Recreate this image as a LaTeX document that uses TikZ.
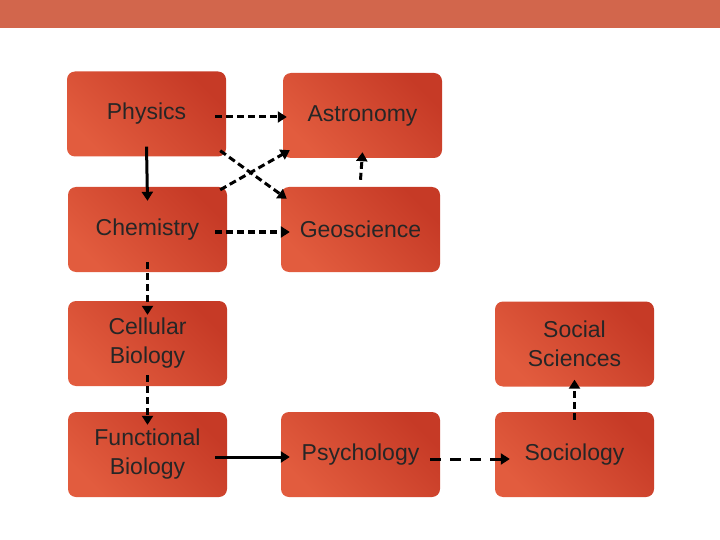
\documentclass[tikz,border=0pt]{standalone}
\usepackage{fontspec}
\setmainfont{Liberation Sans}
\usetikzlibrary{arrows.meta}
\definecolor{bar}{RGB}{210,102,76}
\definecolor{boxA}{RGB}{226,92,62}
\definecolor{boxB}{RGB}{198,58,38}
\tikzset{
  box/.style={rounded corners=8pt, minimum width=159pt, minimum height=85pt, inner sep=2pt,
    left color=boxA, right color=boxB, shading angle=135, align=center,
    font=\fontsize{23}{29}\selectfont, text=black!85},
  con/.style={line width=3pt, -{Triangle[length=9pt,width=11pt]}},
  dsh/.style={con, dash pattern=on 7pt off 4pt},
  ldsh/.style={con, dash pattern=on 11pt off 9pt}
}
\begin{document}
\begin{tikzpicture}[x=1pt,y=-1pt]
\useasboundingbox (0,0) rectangle (720,540);
\fill[bar] (0,0) rectangle (720,28);
\node[box] (phys) at (146.5,114) {Physics};
\node[box] (astr) at (362.5,115.5) {Astronomy};
\node[box] (chem) at (147.5,229.5) {Chemistry};
\node[box] (geo) at (360.5,229.5) {Geoscience};
\node[box] (cell) at (147.5,343.5) {Cellular\\Biology};
\node[box] (soc) at (574.5,344) {Social\\Sciences};
\node[box] (func) at (147.5,454.5) {Functional\\Biology};
\node[box] (psy) at (360.5,454.5) {Psychology};
\node[box] (socio) at (574.5,454.5) {Sociology};
\draw[dsh] ([xshift=-11pt,yshift=-3pt]phys.east) -- ([xshift=4pt,yshift=-1.5pt]astr.west);
\draw[dsh] ([xshift=-6pt,yshift=6pt]phys.south east) -- ([xshift=6pt,yshift=-12pt]geo.north west);
\draw[dsh] ([xshift=-7pt,yshift=-3pt]chem.north east) -- ([xshift=7pt,yshift=8pt]astr.south west);
\draw[dsh] ([yshift=7pt]geo.north) -- ([yshift=6pt]astr.south);
\draw[con] ([yshift=10pt]phys.south) -- ([yshift=-14pt]chem.north);
\draw[dsh] ([xshift=-12pt,yshift=-2.5pt]chem.east) -- ([xshift=9pt,yshift=-2.5pt]geo.west);
\draw[dsh] ([yshift=10pt]chem.south) -- ([yshift=-14pt]cell.north);
\draw[dsh] ([yshift=11pt]cell.south) -- ([yshift=-13pt]func.north);
\draw[con] ([xshift=-12pt,yshift=-2.5pt]func.east) -- ([xshift=9pt,yshift=-2.5pt]psy.west);
\draw[ldsh] ([xshift=-10pt,yshift=-4.5pt]psy.east) -- ([xshift=15pt,yshift=-4.5pt]socio.west);
\draw[dsh] ([yshift=-8pt]socio.north) -- ([yshift=7pt]soc.south);
\end{tikzpicture}
\end{document}
